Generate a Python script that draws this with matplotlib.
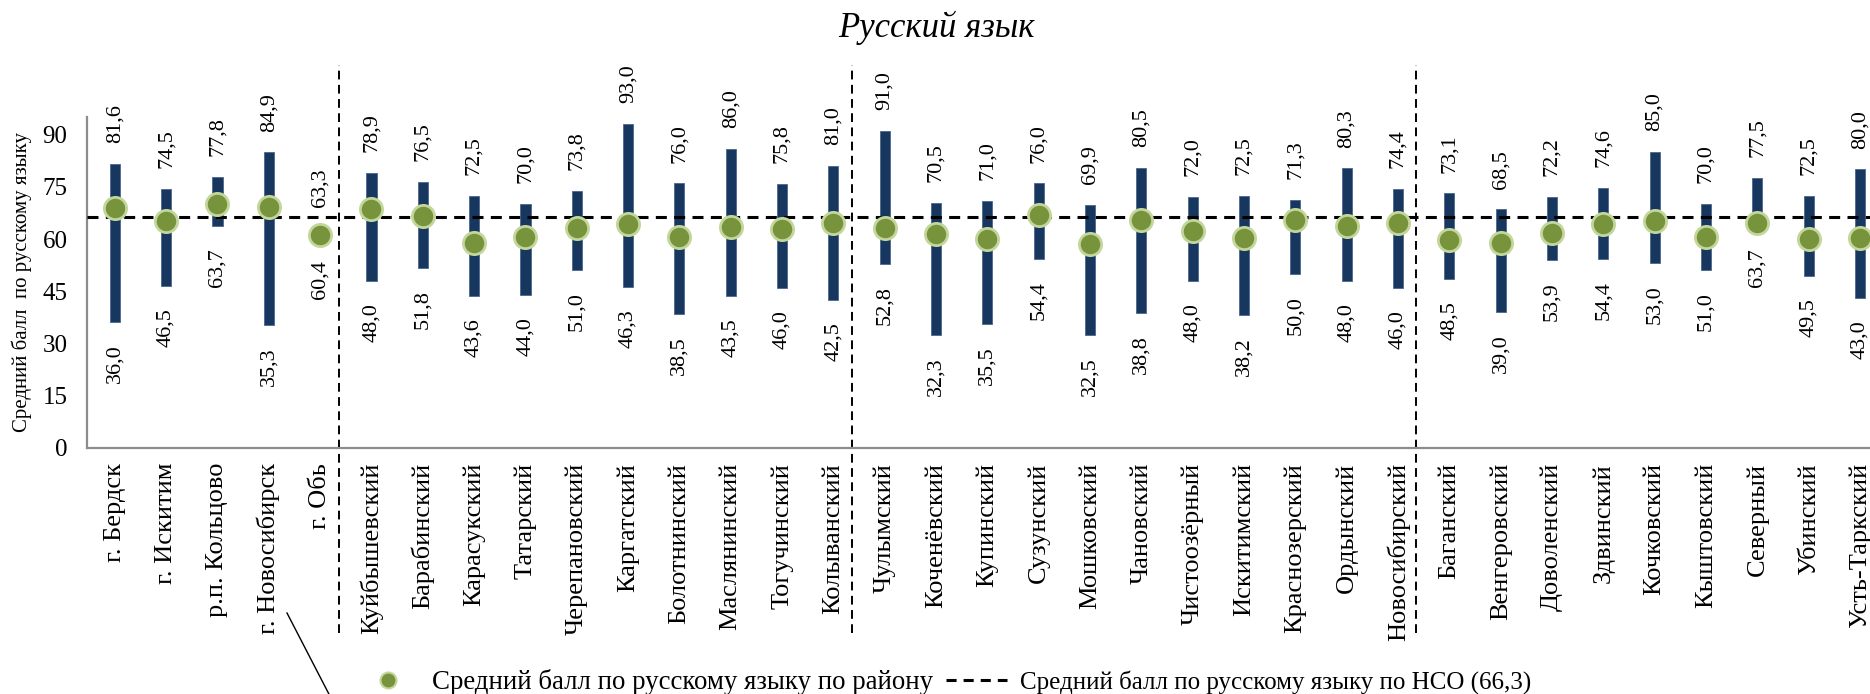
import matplotlib
matplotlib.use("Agg")
import matplotlib.pyplot as plt
from matplotlib.lines import Line2D
import matplotlib.transforms as mtransforms
import numpy as np

plt.rcParams['font.family'] = ['Liberation Serif', 'DejaVu Serif']

categories = ["г. Бердск", "г. Искитим", "р.п. Кольцово", "г. Новосибирск", "г. Обь",
              "Куйбышевский", "Барабинский", "Карасукский", "Татарский", "Черепановский",
              "Каргатский", "Болотнинский", "Маслянинский", "Тогучинский", "Колыванский",
              "Чулымский", "Коченёвский", "Купинский", "Сузунский", "Мошковский",
              "Чановский", "Чистоозёрный", "Искитимский", "Краснозерский", "Ордынский",
              "Новосибирский", "Баганский", "Венгеровский", "Доволенский", "Здвинский",
              "Кочковский", "Кыштовский", "Северный", "Убинский", "Усть-Таркский"]

max_scores = [81.6, 74.5, 77.8, 84.9, 63.3,
              78.9, 76.5, 72.5, 70.0, 73.8,
              93.0, 76.0, 86.0, 75.8, 81.0,
              91.0, 70.5, 71.0, 76.0, 69.9,
              80.5, 72.0, 72.5, 71.3, 80.3,
              74.4, 73.1, 68.5, 72.2, 74.6,
              85.0, 70.0, 77.5, 72.5, 80.0]

min_scores = [36.0, 46.5, 63.7, 35.3, 60.4,
              48.0, 51.8, 43.6, 44.0, 51.0,
              46.3, 38.5, 43.5, 46.0, 42.5,
              52.8, 32.3, 35.5, 54.4, 32.5,
              38.8, 48.0, 38.2, 50.0, 48.0,
              46.0, 48.5, 39.0, 53.9, 54.4,
              53.0, 51.0, 63.7, 49.5, 43.0]

mean_scores = [68.9, 65.1, 70.2, 69.2, 61.2,
               68.6, 66.7, 58.8, 60.7, 63.1,
               64.3, 60.7, 63.6, 62.9, 64.6,
               63.1, 61.5, 60.1, 66.8, 58.6,
               65.4, 62.4, 60.3, 65.5, 63.8,
               64.6, 59.8, 58.8, 61.7, 64.4,
               65.1, 60.6, 64.6, 60.0, 60.3]

region_mean = 66.3
group_sizes = [5, 10, 11, 9]   # города / группы районов

title = "Русский язык"
ylabel = "Средний балл  по русскому языку"
legend_points = "Средний балл по русскому языку по району"
legend_line = "Средний балл по русскому языку по НСО (66,3)"
yticks = [0, 15, 30, 45, 60, 75, 90]

def fmt(v):
    return f"{v:.1f}".replace(".", ",")

W, H = 1870, 694
fig = plt.figure(figsize=(W / 100, H / 100), dpi=100)
ax = fig.add_axes([87 / W, (H - 447.7) / H, (1887.7 - 87) / W, (447.7 - 117.3) / H])

x = np.arange(len(categories))
mins = np.array(min_scores)
maxs = np.array(max_scores)

bar_color = "#17375E"
marker_face = "#77933C"
marker_edge = "#C3D69B"

ax.bar(x, maxs - mins, bottom=mins, width=0.2, color=bar_color,
       edgecolor="#4A6690", linewidth=0.6, zorder=2)

ax.axhline(region_mean, color="black", lw=2.2, linestyle=(0, (3.6, 2.4)), zorder=3)

ax.plot(x, mean_scores, linestyle="none", marker="o", markersize=16,
        markerfacecolor=marker_face, markeredgecolor=marker_edge, markeredgewidth=2, zorder=4)

for xi, lo, hi in zip(x, min_scores, max_scores):
    ax.annotate(fmt(hi), (xi, hi), xytext=(0, 15), textcoords="offset points",
                rotation=90, ha="center", va="bottom", fontsize=16, annotation_clip=False)
    ax.annotate(fmt(lo), (xi, lo), xytext=(0, -16), textcoords="offset points",
                rotation=90, ha="center", va="top", fontsize=16, annotation_clip=False)

# group separators
trans = mtransforms.blended_transform_factory(ax.transData, ax.transAxes)
bounds = np.cumsum(group_sizes)[:-1]
for b in bounds:
    xb = b - 1 + 0.36
    ax.plot([xb, xb], [-0.561, 1.158], transform=trans, color="black", lw=1.4,
            linestyle=(0, (4.5, 2.8)), clip_on=False, zorder=1)

ax.set_xlim(-0.54, 34.54)
ax.set_ylim(0, 95)
ax.set_yticks(yticks)
ax.set_yticklabels([str(t) for t in yticks], fontsize=18)
ax.set_xticks(x)
ax.set_xticklabels(categories, rotation=90, fontsize=19)
ax.tick_params(axis="both", length=0)
ax.tick_params(axis="y", pad=14)
ax.tick_params(axis="x", pad=11)
for s in ["top", "right"]:
    ax.spines[s].set_visible(False)
for s in ["left", "bottom"]:
    ax.spines[s].set_color("#8C8C8C")
    ax.spines[s].set_linewidth(1.6)

fig.text(22 / W, 1 - 282 / H, ylabel, rotation=90, ha="center", va="center", fontsize=15)
fig.text(936 / W, 1 - 28 / H, title, ha="center", va="center", fontsize=25, style="italic")

h_points = Line2D([], [], linestyle="none", marker="o", markersize=11.5,
                  markerfacecolor=marker_face, markeredgecolor=marker_edge, markeredgewidth=1.5)
h_line = Line2D([], [], color="black", lw=2.2, linestyle=(0, (3.3, 2.3)))

leg1 = fig.legend([h_points], [legend_points], loc="center left",
                  bbox_to_anchor=(374.5 / W, 1 - 682 / H), frameon=False, fontsize=19.4,
                  handlelength=1.0, handletextpad=1.14, borderpad=0, borderaxespad=0)
leg2 = fig.legend([h_line], [legend_line], loc="center left",
                  bbox_to_anchor=(946 / W, 1 - 682 / H), frameon=False, fontsize=18,
                  handlelength=2.44, handletextpad=0.52, borderpad=0, borderaxespad=0)

fig.add_artist(Line2D([287 / W, 332 / W], [1 - 613 / H, 1 - 700 / H], color="black", lw=1))

fig.savefig("out.png", dpi=100)
